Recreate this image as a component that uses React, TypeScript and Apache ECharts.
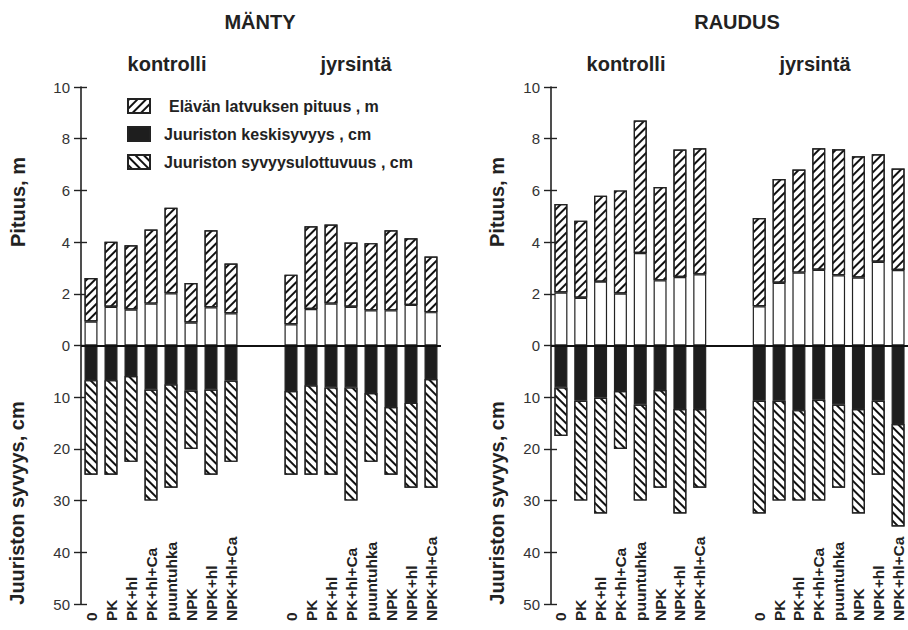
import React, { useEffect, useRef } from "react";
import * as echarts from "echarts";

// ---- Categories / labels ----
const treatments = ["0", "PK", "PK+hl", "PK+hl+Ca", "puuntuhka", "NPK", "NPK+hl", "NPK+hl+Ca"];
const heightTicks = [0, 2, 4, 6, 8, 10];
const depthTicks = [0, 10, 20, 30, 40, 50];
const CM_PER_M_UNIT = 5; // 10 cm on the lower axis = 2 m on the upper one

// ---- MÄNTY ----
const mantyKontrolliHeight = [2.61, 4.01, 3.88, 4.49, 5.33, 2.42, 4.46, 3.17];
const mantyKontrolliCrownBase = [0.93, 1.5, 1.39, 1.62, 2.02, 0.89, 1.48, 1.25];
const mantyJyrsintaHeight = [2.74, 4.61, 4.68, 3.98, 3.96, 4.46, 4.15, 3.44];
const mantyJyrsintaCrownBase = [0.82, 1.41, 1.62, 1.5, 1.36, 1.36, 1.57, 1.29];
const mantyKontrolliRootMean = [6.7, 6.7, 5.9, 8.5, 7.5, 8.7, 8.5, 6.8];
const mantyKontrolliRootMax = [25, 25, 22.5, 30, 27.5, 20, 25, 22.5];
const mantyJyrsintaRootMean = [8.8, 7.7, 8.1, 8.1, 9.2, 11.9, 11.1, 6.5];
const mantyJyrsintaRootMax = [25, 25, 25, 30, 22.5, 25, 27.5, 27.5];

// ---- RAUDUS ----
const raudusKontrolliHeight = [5.47, 4.83, 5.79, 6.0, 8.7, 6.13, 7.58, 7.63];
const raudusKontrolliCrownBase = [2.05, 1.85, 2.47, 2.01, 3.58, 2.52, 2.65, 2.75];
const raudusJyrsintaHeight = [4.93, 6.44, 6.81, 7.63, 7.59, 7.32, 7.4, 6.85];
const raudusJyrsintaCrownBase = [1.52, 2.43, 2.82, 2.93, 2.72, 2.63, 3.24, 2.92];
const raudusKontrolliRootMean = [8.1, 10.7, 10.1, 8.8, 11.4, 8.6, 12.3, 12.3];
const raudusKontrolliRootMax = [17.5, 30, 32.5, 20, 30, 27.5, 32.5, 27.5];
const raudusJyrsintaRootMean = [10.7, 10.7, 12.5, 10.5, 11.4, 12.3, 10.7, 15.2];
const raudusJyrsintaRootMax = [32.5, 30, 30, 30, 27.5, 32.5, 25, 35];

const NAME_CROWN = "Elävän latvuksen pituus , m";
const NAME_MEAN = "Juuriston keskisyvyys , cm";
const NAME_REACH = "Juuriston syvyysulottuvuus , cm";

const FONT = '"Liberation Sans", Arial, Helvetica, sans-serif';
const INK = "#222";

const categories = [...treatments, "", " ", ...treatments];

const join = (a: (number | string)[], b: (number | string)[]) => [...a, "-", "-", ...b];

const hatch = (rotation: number) => ({
  symbol: "rect",
  symbolSize: 1,
  dashArrayX: [1, 0],
  dashArrayY: [1.2, 3.4],
  rotation,
  color: "#111",
  backgroundColor: "#fff",
});

function panelSeries(
  idx: number,
  kH: number[], kB: number[], jH: number[], jB: number[],
  kRM: number[], kRX: number[], jRM: number[], jRX: number[]
) {
  const stack = "panel" + idx;
  const border = { borderColor: INK, borderWidth: 1.2 };
  const base = join(kB, jB);
  const crown = join(kH.map((h, i) => h - kB[i]), jH.map((h, i) => h - jB[i]));
  const mean = join(kRM.map((v) => -v / CM_PER_M_UNIT), jRM.map((v) => -v / CM_PER_M_UNIT));
  const reach = join(
    kRX.map((v, i) => -(v - kRM[i]) / CM_PER_M_UNIT),
    jRX.map((v, i) => -(v - jRM[i]) / CM_PER_M_UNIT)
  );
  const common = { type: "bar", stack, xAxisIndex: idx, yAxisIndex: idx * 2, barWidth: 13 };
  return [
    {
      ...common,
      name: "base" + idx,
      data: base,
      itemStyle: { color: "#fff", ...border },
      markLine: {
        silent: true,
        symbol: ["none", "none"],
        label: { show: false },
        lineStyle: { color: "#111", width: 2, type: "solid" },
        data: [{ yAxis: 0 }],
      },
    },
    {
      ...common,
      name: NAME_CROWN,
      data: crown,
      itemStyle: { color: "#fff", ...border, decal: hatch(-Math.PI / 4) },
    },
    {
      ...common,
      name: NAME_MEAN,
      data: mean,
      itemStyle: { color: "#1e1e1e", ...border },
    },
    {
      ...common,
      name: NAME_REACH,
      data: reach,
      itemStyle: { color: "#fff", ...border, decal: hatch(Math.PI / 4) },
    },
  ];
}

function yAxes(gridIndex: number) {
  const labelFmt = (v: number) => {
    if (v >= 0) return heightTicks.includes(v) ? String(v) : "";
    const cm = Math.round(-v * CM_PER_M_UNIT);
    return depthTicks.includes(cm) ? String(cm) : "";
  };
  return [
    {
      type: "value",
      gridIndex,
      position: "left",
      min: -10,
      max: 10,
      interval: 2,
      axisLine: { show: true, lineStyle: { color: INK, width: 1.6 } },
      axisTick: { show: true, length: 7, lineStyle: { color: INK, width: 1.4 } },
      axisLabel: { color: "#333", fontSize: 15, fontFamily: FONT, margin: 11, formatter: labelFmt },
      splitLine: { show: false },
    },
    {
      type: "value",
      gridIndex,
      position: "left",
      min: -10,
      max: 10,
      interval: 2,
      axisLine: { show: false },
      axisTick: { show: true, inside: true, length: 6, lineStyle: { color: INK, width: 1.4 } },
      axisLabel: { show: false },
      splitLine: { show: false },
    },
  ];
}

function xAxis(gridIndex: number) {
  return {
    type: "category",
    gridIndex,
    position: "bottom",
    data: categories,
    axisLine: { show: false },
    axisTick: { show: false },
    axisLabel: {
      interval: 0,
      rotate: 90,
      align: "left",
      margin: 17,
      color: INK,
      fontSize: 15.5,
      fontWeight: "bold",
      fontFamily: FONT,
    },
  };
}

function txt(text: string, x: number, y: number, size: number, rotation = 0) {
  return {
    type: "text",
    x,
    y,
    rotation,
    style: {
      text,
      fill: INK,
      font: `bold ${size}px ${FONT}`,
      align: "center",
      verticalAlign: "middle",
    },
  };
}

export default function App() {
  const ref = useRef<HTMLDivElement>(null);
  useEffect(() => {
    if (!ref.current) return;
    const chart = echarts.init(ref.current, undefined, { renderer: "svg" });
    chart.setOption({
      animation: false,
      backgroundColor: "#fff",
      textStyle: { fontFamily: FONT },
      grid: [
        { left: 81, top: 87, width: 360, height: 517 },
        { left: 551, top: 87, width: 360, height: 517 },
      ],
      xAxis: [xAxis(0), xAxis(1)],
      yAxis: [...yAxes(0), ...yAxes(1)],
      legend: {
        orient: "vertical",
        left: 127,
        top: 98,
        padding: 0,
        itemWidth: 22,
        itemHeight: 14,
        itemGap: 12,
        icon: "rect",
        selectedMode: false,
        textStyle: { color: INK, fontSize: 16, fontWeight: "bold", fontFamily: FONT, padding: [0, 0, 0, 9] },
        data: [
          { name: NAME_CROWN, textStyle: { padding: [0, 0, 0, 14] } },
          { name: NAME_MEAN },
          { name: NAME_REACH },
        ],
      },
      series: [
        ...panelSeries(0,
          mantyKontrolliHeight, mantyKontrolliCrownBase, mantyJyrsintaHeight, mantyJyrsintaCrownBase,
          mantyKontrolliRootMean, mantyKontrolliRootMax, mantyJyrsintaRootMean, mantyJyrsintaRootMax),
        ...panelSeries(1,
          raudusKontrolliHeight, raudusKontrolliCrownBase, raudusJyrsintaHeight, raudusJyrsintaCrownBase,
          raudusKontrolliRootMean, raudusKontrolliRootMax, raudusJyrsintaRootMean, raudusJyrsintaRootMax),
      ],
      graphic: [
        txt("MÄNTY", 260, 22, 20),
        txt("kontrolli", 167, 64, 20),
        txt("jyrsintä", 356, 64, 20),
        txt("RAUDUS", 737, 22, 20),
        txt("kontrolli", 626, 64, 20),
        txt("jyrsintä", 815, 64, 20),
        txt("Pituus, m", 18, 202, 20, Math.PI / 2),
        txt("Juuriston syvyys, cm", 17, 503, 20, Math.PI / 2),
        txt("Pituus, m", 497, 202, 20, Math.PI / 2),
        txt("Juuriston syvyys, cm", 497, 503, 20, Math.PI / 2),
      ],
    });
    return () => chart.dispose();
  }, []);
  return (
    <div
      ref={ref}
      style={{ position: "absolute", left: 0, top: 0, width: 908, height: 630, background: "#fff" }}
    />
  );
}
